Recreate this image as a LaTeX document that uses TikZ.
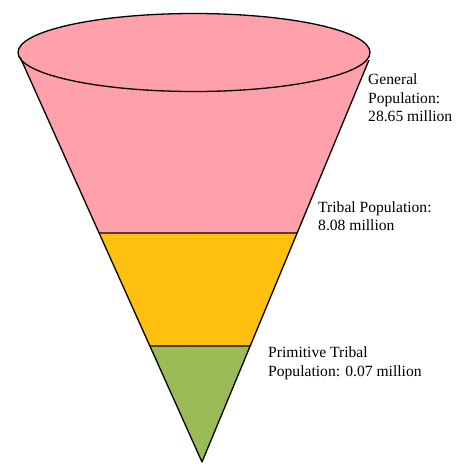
\documentclass[tikz,border=0pt]{standalone}
\usepackage{fontspec}
\setmainfont{Liberation Serif}
\usetikzlibrary{calc}
\definecolor{pinkc}{RGB}{255,160,170}
\definecolor{yellowc}{RGB}{255,192,16}
\definecolor{greenc}{RGB}{155,187,89}
\tikzset{
  edge/.style={draw=black,line width=1.3pt,line join=round},
  lbl/.style={anchor=north west,align=left,inner sep=0pt,font=\fontsize{15.6pt}{18.7pt}\selectfont}
}
\begin{document}
\begin{tikzpicture}[x=1pt,y=-1pt]
\useasboundingbox (0,0) rectangle (456,464);
\coordinate (L) at (20,57);
\coordinate (R) at (369,60);
\coordinate (P) at (202,462);
\coordinate (L1) at ($(L)!0.4346!(P)$);
\coordinate (R1) at ($(R)!0.4303!(P)$);
\coordinate (L2) at ($(L)!0.7136!(P)$);
\coordinate (R2) at ($(R)!0.7114!(P)$);
% pink section
\fill[pinkc] (L) -- (R) -- (R1) -- (L1) -- cycle;
\fill[pinkc] (194,52.5) ellipse [x radius=176, y radius=39];
% yellow section
\fill[yellowc] (L1) -- (R1) -- (R2) -- (L2) -- cycle;
% green section
\fill[greenc] (L2) -- (R2) -- (P) -- cycle;
% outlines
\draw[edge] (L) -- (P) -- (R);
\draw[edge] (L1) -- (R1);
\draw[edge] (L2) -- (R2);
\draw[edge] (194,52.5) ellipse [x radius=176, y radius=39];
% labels
\node[lbl] (t1) at (368,73.5) {General\\Population:\\28.65 million};
\node[lbl] (t2) at (318,201) {Tribal Population:\\8.08 million};
\node[lbl] (t3) at (268,346.5) {Primitive Tribal\\Population: 0.07 million};
\end{tikzpicture}
\end{document}
